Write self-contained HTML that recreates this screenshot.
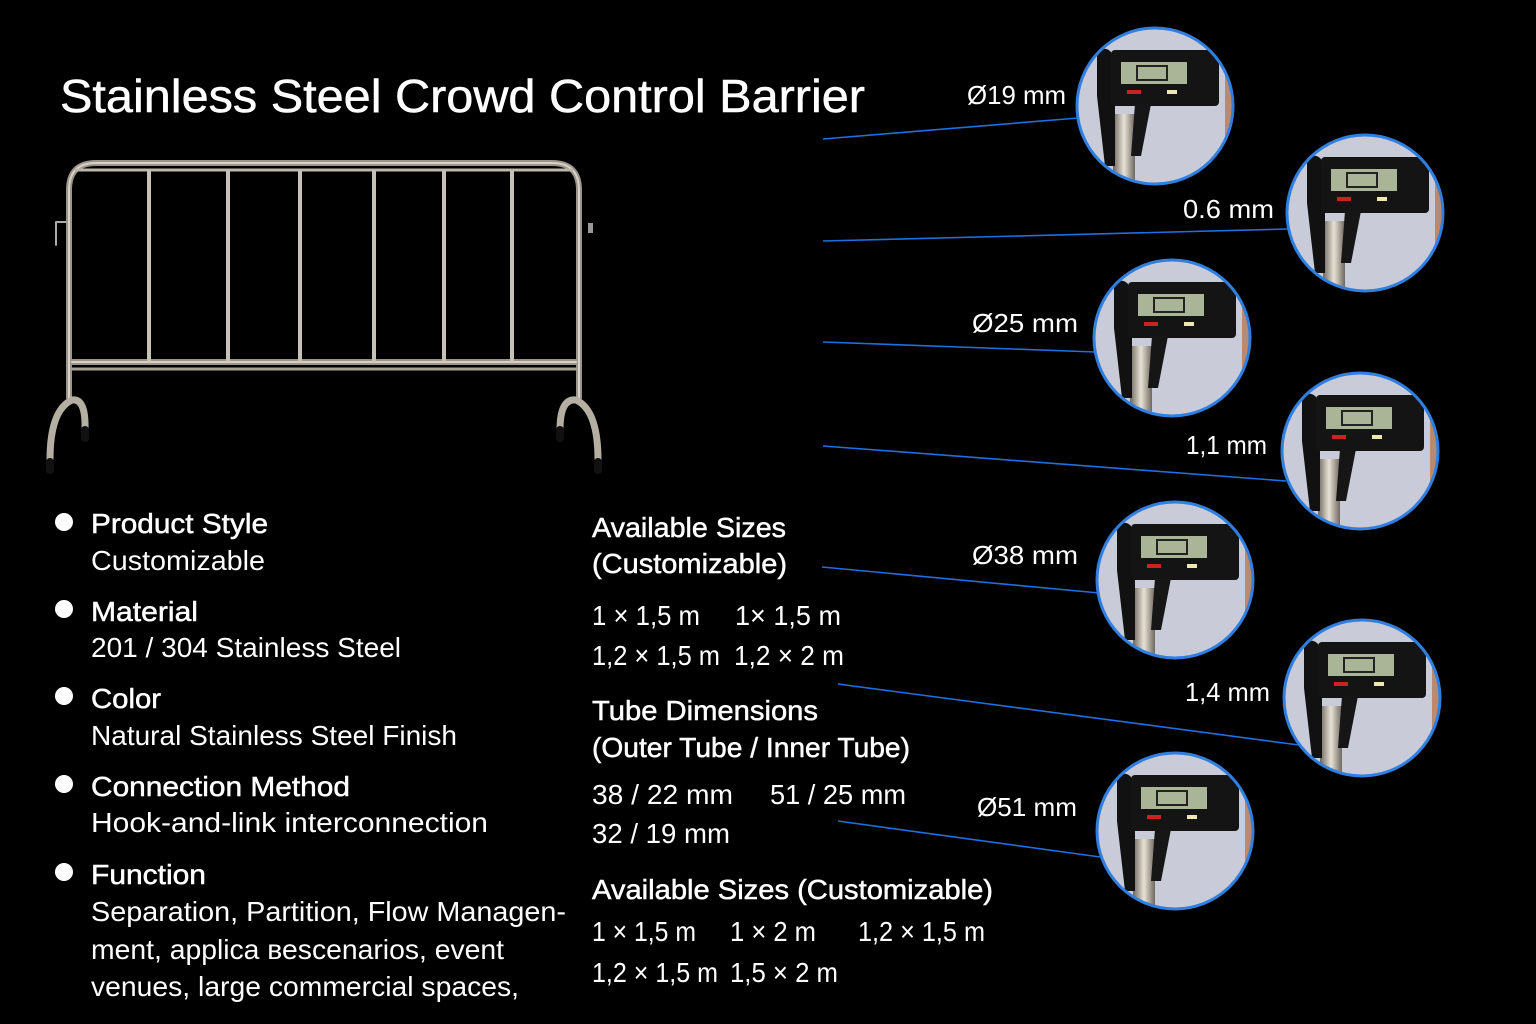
<!DOCTYPE html>
<html><head><meta charset="utf-8"><style>
html,body{margin:0;padding:0;background:#000;}
svg{display:block}
text{font-family:"Liberation Sans","DejaVu Sans",sans-serif;fill:#fff}
.h{stroke:#fff;stroke-width:0.5}
</style></head><body>
<svg width="1536" height="1024" viewBox="0 0 1536 1024" xmlns="http://www.w3.org/2000/svg">
<defs>
<clipPath id="cc"><circle cx="80" cy="80" r="78"/></clipPath>
<linearGradient id="steel" x1="0" x2="1"><stop offset="0" stop-color="#6d675f"/><stop offset=".5" stop-color="#e8e2d6"/><stop offset="1" stop-color="#6d675f"/></linearGradient>
<symbol id="cal" viewBox="0 0 160 160" width="160" height="160">
<g clip-path="url(#cc)">
<rect width="160" height="160" fill="#c9ccd8"/>
<path d="M150 40 L175 40 L175 120 L150 110 Z" fill="#b98a70"/>
<rect x="38" y="88" width="22" height="80" fill="url(#steel)"/>
<path d="M22 30 Q28 18 36 26 L40 60 L40 140 L30 140 L22 70 Z" fill="#111"/>
<rect x="36" y="24" width="108" height="56" rx="4" fill="#141414"/>
<path d="M60 78 L76 78 L66 130 L56 130 Z" fill="#161616"/>
<rect x="46" y="36" width="66" height="22" fill="#a9b596"/>
<rect x="62" y="40" width="30" height="14" fill="none" stroke="#222" stroke-width="2"/>
<rect x="52" y="64" width="14" height="4" fill="#c22"/>
<rect x="92" y="64" width="10" height="4" fill="#eee8b0"/>
</g>
<circle cx="80" cy="80" r="78" fill="none" stroke="#2f7fe0" stroke-width="3"/>
</symbol>
</defs>

<rect width="1536" height="1024" fill="#000"/>

<text x="60" y="112" font-size="46" class="h" textLength="805" lengthAdjust="spacingAndGlyphs">Stainless Steel Crowd Control Barrier</text>

<!-- barrier -->
<g fill="none" stroke-linecap="round">
<g stroke="#9a948a" stroke-width="6">
<path d="M69 398 L69 190 Q69 163 96 163 L552 163 Q579 163 579 190 L579 398"/>
<path d="M72 362 L576 362"/>
</g>
<g stroke="#d8d2c6" stroke-width="2">
<path d="M69 398 L69 190 Q69 163 96 163 L552 163 Q579 163 579 190 L579 398"/>
<path d="M76 170 L572 170" stroke="#bdb6aa" stroke-width="3"/>
<path d="M72 362 L576 362"/>
<path d="M72 369 L576 369" stroke="#a7a095" stroke-width="3"/>
</g>
<g stroke="#c8c2b6" stroke-width="4">
<path d="M149 172 V360 M228 172 V360 M300 172 V360 M374 172 V360 M444 172 V360 M512 172 V360"/>
</g>
<g stroke="#b5afa3" stroke-width="7">
<path d="M72 400 Q50 410 50 460"/>
<path d="M72 400 Q86 398 85 430"/>
<path d="M576 400 Q598 410 598 460"/>
<path d="M576 400 Q560 398 560 430"/>
</g>
<g stroke="#111" stroke-width="8">
<path d="M50 462 V470 M85 430 V438 M598 462 V470 M560 430 V438"/>
</g>
<path d="M56 222 V245 M56 222 H66" stroke="#aaa" stroke-width="2"/>
<rect x="588" y="223" width="5" height="10" fill="#999"/>
</g>

<!-- bullets -->
<g font-size="28">
<circle cx="64" cy="522" r="9" fill="#fff"/>
<text x="91" y="533" class="h" textLength="177" lengthAdjust="spacingAndGlyphs">Product Style</text>
<text x="91" y="570" textLength="174" lengthAdjust="spacingAndGlyphs">Customizable</text>
<circle cx="64" cy="609" r="9" fill="#fff"/>
<text x="91" y="621" class="h" textLength="107" lengthAdjust="spacingAndGlyphs">Material</text>
<text x="91" y="657" textLength="310" lengthAdjust="spacingAndGlyphs">201 / 304 Stainless Steel</text>
<circle cx="64" cy="696" r="9" fill="#fff"/>
<text x="91" y="708" class="h" textLength="70" lengthAdjust="spacingAndGlyphs">Color</text>
<text x="91" y="745" textLength="366" lengthAdjust="spacingAndGlyphs">Natural Stainless Steel Finish</text>
<circle cx="64" cy="784" r="9" fill="#fff"/>
<text x="91" y="796" class="h" textLength="259" lengthAdjust="spacingAndGlyphs">Connection Method</text>
<text x="91" y="832" textLength="397" lengthAdjust="spacingAndGlyphs">Hook-and-link interconnection</text>
<circle cx="64" cy="872" r="9" fill="#fff"/>
<text x="91" y="884" class="h" textLength="115" lengthAdjust="spacingAndGlyphs">Function</text>
<text x="91" y="921" textLength="475" lengthAdjust="spacingAndGlyphs">Separation, Partition, Flow Managen-</text>
<text x="91" y="959" textLength="413" lengthAdjust="spacingAndGlyphs">ment, applica веscenarios, event</text>
<text x="91" y="996" textLength="428" lengthAdjust="spacingAndGlyphs">venues, large commercial spaces,</text>
</g>

<!-- middle column -->
<g font-size="28">
<text x="592" y="537" class="h" textLength="194" lengthAdjust="spacingAndGlyphs">Available Sizes</text>
<text x="592" y="573" class="h" textLength="195" lengthAdjust="spacingAndGlyphs">(Customizable)</text>
<text x="592" y="625" textLength="108" lengthAdjust="spacingAndGlyphs">1 × 1,5 m</text><text x="735" y="625" textLength="106" lengthAdjust="spacingAndGlyphs">1× 1,5 m</text>
<text x="592" y="665" textLength="128" lengthAdjust="spacingAndGlyphs">1,2 × 1,5 m</text><text x="734" y="665" textLength="110" lengthAdjust="spacingAndGlyphs">1,2 × 2 m</text>
<text x="592" y="720" class="h" textLength="226" lengthAdjust="spacingAndGlyphs">Tube Dimensions</text>
<text x="592" y="757" class="h" textLength="318" lengthAdjust="spacingAndGlyphs">(Outer Tube / Inner Tube)</text>
<text x="592" y="804" textLength="141" lengthAdjust="spacingAndGlyphs">38 / 22 mm</text><text x="770" y="804" textLength="136" lengthAdjust="spacingAndGlyphs">51 / 25 mm</text>
<text x="592" y="843" textLength="138" lengthAdjust="spacingAndGlyphs">32 / 19 mm</text>
<text x="592" y="899" class="h" textLength="401" lengthAdjust="spacingAndGlyphs">Available Sizes (Customizable)</text>
<text x="592" y="941" textLength="104" lengthAdjust="spacingAndGlyphs">1 × 1,5 m</text><text x="730" y="941" textLength="86" lengthAdjust="spacingAndGlyphs">1 × 2 m</text><text x="858" y="941" textLength="127" lengthAdjust="spacingAndGlyphs">1,2 × 1,5 m</text>
<text x="592" y="982" textLength="126" lengthAdjust="spacingAndGlyphs">1,2 × 1,5 m</text><text x="730" y="982" textLength="108" lengthAdjust="spacingAndGlyphs">1,5 × 2 m</text>
</g>

<!-- connector lines -->
<g stroke="#1f6fe0" stroke-width="1.6">
<line x1="823" y1="139" x2="1078" y2="118"/>
<line x1="823" y1="241" x2="1288" y2="229"/>
<line x1="823" y1="342" x2="1095" y2="352"/>
<line x1="823" y1="446" x2="1286" y2="481"/>
<line x1="822" y1="567" x2="1099" y2="593"/>
<line x1="838" y1="684" x2="1299" y2="745"/>
<line x1="838" y1="821" x2="1100" y2="857"/>
</g>

<!-- circles -->
<use href="#cal" x="1075" y="26"/>
<use href="#cal" x="1285" y="133"/>
<use href="#cal" x="1092" y="258"/>
<use href="#cal" x="1280" y="371"/>
<use href="#cal" x="1095" y="500"/>
<use href="#cal" x="1282" y="618"/>
<use href="#cal" x="1095" y="751"/>

<!-- measurement labels -->
<g font-size="26">
<text x="967" y="104" textLength="99" lengthAdjust="spacingAndGlyphs">Ø19 mm</text>
<text x="1183" y="218" textLength="91" lengthAdjust="spacingAndGlyphs">0.6 mm</text>
<text x="972" y="332" textLength="106" lengthAdjust="spacingAndGlyphs">Ø25 mm</text>
<text x="1186" y="454" textLength="81" lengthAdjust="spacingAndGlyphs">1,1 mm</text>
<text x="972" y="564" textLength="106" lengthAdjust="spacingAndGlyphs">Ø38 mm</text>
<text x="1185" y="701" textLength="85" lengthAdjust="spacingAndGlyphs">1,4 mm</text>
<text x="977" y="816" textLength="100" lengthAdjust="spacingAndGlyphs">Ø51 mm</text>
</g>
</svg>
</body></html>
